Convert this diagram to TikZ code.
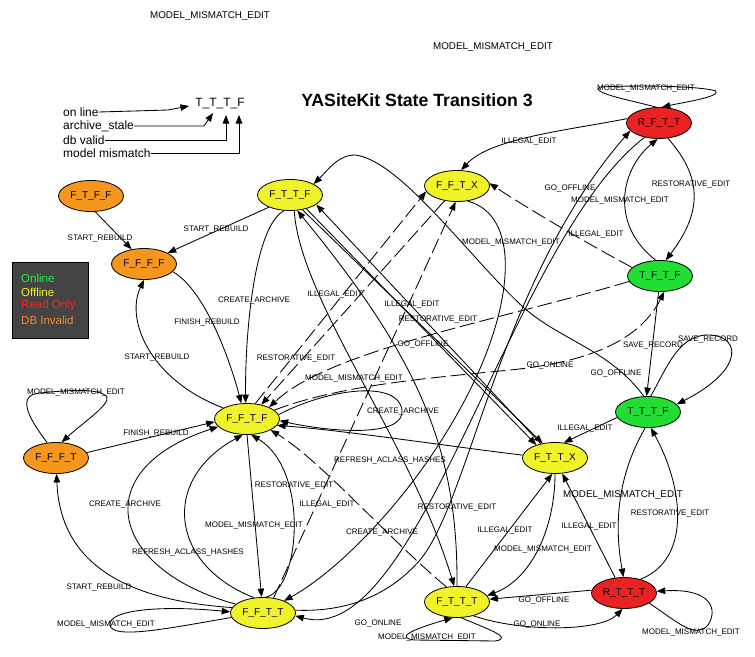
\documentclass[tikz,border=0pt]{standalone}
\usepackage{fontspec}
\setmainfont{Liberation Sans}
\usetikzlibrary{shapes.geometric,arrows.meta}
\definecolor{cOrange}{HTML}{F5961E}
\definecolor{cYellow}{HTML}{F0F22A}
\definecolor{cRed}{HTML}{EC2222}
\definecolor{cGreen}{HTML}{22DD33}
\definecolor{cLegend}{HTML}{444444}
\definecolor{lgGreen}{HTML}{22EE44}
\definecolor{lgYellow}{HTML}{EEEE33}
\definecolor{lgRed}{HTML}{EE2828}
\definecolor{lgOrange}{HTML}{F08A30}
\begin{document}
\begin{tikzpicture}[x=1pt,y=-1pt,
  state/.style={ellipse, draw, line width=0.8pt, minimum width=65pt, minimum height=31pt, inner sep=0pt, font=\fontsize{10}{12}\selectfont},
  edge/.style={line width=0.85pt, -{Triangle[length=8.5pt,width=6.5pt]}},
  dsh/.style={dash pattern=on 15pt off 5pt},
  elab/.style={inner sep=0pt, font=\fontsize{8}{9.6}\selectfont},
  blab/.style={inner sep=0pt, font=\fontsize{9.8}{11}\selectfont},
  keytxt/.style={anchor=west, inner sep=0pt, font=\fontsize{12}{14}\selectfont},
  lgtxt/.style={anchor=west, inner sep=0pt, font=\fontsize{11.5}{13}\selectfont}]
\useasboundingbox (0,0) rectangle (755,656);

% title and key
\node[inner sep=0pt, font=\fontsize{17.7}{20}\selectfont\bfseries] (title) at (417,100) {YASiteKit State Transition 3};
\node[inner sep=0pt, font=\fontsize{12}{14}\selectfont] (code) at (220,104) {T\_T\_T\_F};
\node[keytxt] (k1) at (63,112) {on line};
\node[keytxt] (k2) at (63,126) {archive\_stale};
\node[keytxt] (k3) at (63,140) {db valid};
\node[keytxt] (k4) at (63,153) {model mismatch};
\coordinate (t1) at (189,106);
\coordinate (t2) at (213,113);
\coordinate (t3) at (226,115);
\coordinate (t4) at (239,115);
\draw[edge] (k1.east) -- (168,110) -- (t1);
\draw[edge] (k2.east) -- (204,126) -- (t2);
\draw[edge] (k3.east) -- (226,140) -- (t3);
\draw[edge] (k4.east) -- (239,153) -- (t4);

% legend
\node[draw=black, line width=0.8pt, fill=cLegend, minimum width=76pt, minimum height=76pt, inner sep=0pt] (legend) at (50,300) {};
\node[lgtxt, text=lgGreen] (lg1) at (21,278) {Online};
\node[lgtxt, text=lgYellow] (lg2) at (21,292) {Offline};
\node[lgtxt, text=lgRed] (lg3) at (21,306) {Read Only};
\node[lgtxt, text=lgOrange] (lg4) at (21,320) {DB Invalid};

% states
\node[state, fill=cOrange] (FTFF) at (91,196) {F\_T\_F\_F};
\node[state, fill=cYellow] (FTTF) at (290,195) {F\_T\_T\_F};
\node[state, fill=cYellow] (FFTX) at (457,186) {F\_F\_T\_X};
\node[state, fill=cRed] (RFTT) at (659,123) {R\_F\_T\_T};
\node[state, fill=cOrange] (FFFF) at (144,264) {F\_F\_F\_F};
\node[state, fill=cGreen] (TFTF) at (660,276) {T\_F\_T\_F};
\node[state, fill=cYellow] (FFTF) at (247,419) {F\_F\_T\_F};
\node[state, fill=cGreen] (TTTF) at (648,412) {T\_T\_T\_F};
\node[state, fill=cOrange] (FFFT) at (56,458) {F\_F\_F\_T};
\node[state, fill=cYellow] (FTTX) at (555,458) {F\_T\_T\_X};
\node[state, fill=cYellow] (FFTT) at (263,613) {F\_F\_T\_T};
\node[state, fill=cYellow] (FTTT) at (457,602) {F\_T\_T\_T};
\node[state, fill=cRed] (RTTT) at (624,593) {R\_T\_T\_T};

% edges
\draw[edge] (RFTT.100) .. controls (630,100) and (590,93) .. (600,87) .. controls (640,85) and (700,86) .. (716,91) .. controls (720,97) and (685,102) .. (RFTT.80);
\draw[edge] (RFTT.172) .. controls (570,130) and (490,138) .. (FFTX.75);
\draw[edge] (RFTT.-60) .. controls (705,180) and (700,215) .. (TFTF.70);
\draw[edge] (TFTF.105) .. controls (610,225) and (620,170) .. (RFTT.-95);
\draw[edge,dsh] (TFTF.163) .. controls (590,245) and (530,210) .. (FFTX.5);
\draw[edge] (RFTT.-135) .. controls (510,240) and (420,650) .. (FFTT.-5);
\draw[edge] (FFTT.5) .. controls (340,612) and (385,600) .. (420,560) .. controls (470,500) and (500,280) .. (RFTT.-165);
\draw[edge] (FTFF.-75) -- (FFFF.130);
\draw[edge] (FTTF.-150) -- (FFFF.25);
\draw[edge] (FFFF.-15) .. controls (205,290) and (230,360) .. (FFTF.110);
\draw[edge] (FFTF.155) .. controls (150,380) and (125,320) .. (FFFF.-90);
\draw[edge] (FTTF.-110) .. controls (255,225) and (245,330) .. (FFTF.95);
\draw[edge,dsh] (FFTX.-130) -- (FFTF.45);
\draw[edge,dsh] (FFTF.62) -- (FFTX.190);
\draw[edge,dsh] (FFTT.55) -- (FFTX.-95);
\draw[edge] (FFTX.-55) .. controls (520,215) and (515,300) .. (470,390) .. controls (420,490) and (340,570) .. (FFTT.30);
\draw[edge] (FTTX.135) -- (FTTF.-20);
\draw[edge] (FTTF.-40) -- (FTTX.145);
\draw[edge] (FTTF.-50) -- (FTTX.130);
\draw[edge] (TTTF.190) -- (FTTX.60);
\draw[edge] (TFTF.-95) -- (TTTF.95);
\draw[edge] (TTTF.80) .. controls (668,365) and (678,338) .. (705,335) .. controls (740,333) and (748,368) .. (TTTF.15);
\draw[edge] (TTTF.105) .. controls (610,350) and (560,340) .. (523,307) .. controls (470,258) and (400,160) .. (355,155) .. controls (338,155) and (328,170) .. (FTTF.25);
\draw[edge,dsh] (FFTF.18) .. controls (340,385) and (430,378) .. (510,370) .. controls (590,362) and (640,340) .. (TFTF.-75);
\draw[edge,dsh] (TFTF.190) .. controls (500,320) and (330,350) .. (FFTF.28);
\draw[edge] (FFTF.8) .. controls (330,388) and (398,380) .. (402,410) .. controls (405,438) and (330,432) .. (FFTF.-3);
\draw[edge] (FTTX.175) .. controls (440,445) and (340,430) .. (FFTF.-12);
\draw[edge,dsh] (FTTT.125) .. controls (390,540) and (320,460) .. (FFTF.-25);
\draw[edge] (FTTF.-75) .. controls (300,300) and (410,440) .. (FTTT.100);
\draw[edge] (FTTT.90) .. controls (458,450) and (420,360) .. (FTTF.-65);
\draw[edge] (FFFT.10) -- (FFTF.185);
\draw[edge] (FFFT.120) .. controls (30,420) and (15,395) .. (40,393) .. controls (70,390) and (100,388) .. (107,397) .. controls (110,405) and (80,425) .. (FFFT.70);
\draw[edge] (FFTT.170) .. controls (120,600) and (60,560) .. (FFFT.-88);
\draw[edge] (FFTT.-172) .. controls (170,628) and (112,640) .. (110,625) .. controls (108,610) and (160,605) .. (FFTT.178);
\draw[edge] (FFTT.162) .. controls (110,570) and (85,470) .. (FFTF.195);
\draw[edge] (FFTT.120) .. controls (170,565) and (160,480) .. (FFTF.-105);
\draw[edge] (FFTF.-90) -- (FFTT.95);
\draw[edge] (FFTT.80) .. controls (300,590) and (310,470) .. (FFTF.-75);
\draw[edge] (FTTT.60) -- (FTTX.-100);
\draw[edge] (FTTX.-90) .. controls (555,530) and (530,580) .. (FTTT.12);
\draw[edge] (RTTT.175) -- (FTTT.5);
\draw[edge] (FTTT.-40) .. controls (520,632) and (600,632) .. (RTTT.-95);
\draw[edge] (FTTT.-75) .. controls (485,628) and (515,638) .. (495,641) -- (415,640) .. controls (395,638) and (410,630) .. (FTTT.-105);
\draw[edge] (RTTT.40) .. controls (690,560) and (685,490) .. (TTTF.-80);
\draw[edge] (TTTF.-100) .. controls (615,480) and (615,530) .. (RTTT.92);
\draw[edge] (RTTT.120) -- (FTTX.-65);
\draw[edge] (RTTT.-22) .. controls (675,620) and (695,640) .. (708,625) .. controls (718,610) and (712,588) .. (RTTT.3);

% labels
\node[blab] (b1) at (210,16) {MODEL\_MISMATCH\_EDIT};
\node[blab] (b2) at (493,47) {MODEL\_MISMATCH\_EDIT};
\node[blab] (b3) at (623,495) {MODEL\_MISMATCH\_EDIT};
\node[elab] (e1) at (646,88) {MODEL\_MISMATCH\_EDIT};
\node[elab] (e2) at (529,141) {ILLEGAL\_EDIT};
\node[elab] (e3) at (691,184) {RESTORATIVE\_EDIT};
\node[elab] (e4) at (570,188) {GO\_OFFLINE};
\node[elab] (e5) at (620,200) {MODEL\_MISMATCH\_EDIT};
\node[elab] (e6) at (596,234) {ILLEGAL\_EDIT};
\node[elab] (e7) at (511,242) {MODEL\_MISMATCH\_EDIT};
\node[elab] (e8) at (100,238) {START\_REBUILD};
\node[elab] (e9) at (216,229) {START\_REBUILD};
\node[elab] (e10) at (254,300) {CREATE\_ARCHIVE};
\node[elab] (e11) at (207,322) {FINISH\_REBUILD};
\node[elab] (e12) at (335,294) {ILLEGAL\_EDIT};
\node[elab] (e13) at (412,304) {ILLEGAL\_EDIT};
\node[elab] (e14) at (438,319) {RESTORATIVE\_EDIT};
\node[elab] (e15) at (423,344) {GO\_OFFLINE};
\node[elab] (e16) at (157,357) {START\_REBUILD};
\node[elab] (e17) at (296,358) {RESTORATIVE\_EDIT};
\node[elab] (e18) at (653,345) {SAVE\_RECORD};
\node[elab] (e19) at (708,339) {SAVE\_RECORD};
\node[elab] (e20) at (550,365) {GO\_ONLINE};
\node[elab] (e21) at (616,373) {GO\_OFFLINE};
\node[elab] (e22) at (354,378) {MODEL\_MISMATCH\_EDIT};
\node[elab] (e23) at (403,411) {CREATE\_ARCHIVE};
\node[elab] (e24) at (585,428) {ILLEGAL\_EDIT};
\node[elab] (e25) at (76,392) {MODEL\_MISMATCH\_EDIT};
\node[elab] (e26) at (156,433) {FINISH\_REBUILD};
\node[elab] (e27) at (390,460) {REFRESH\_ACLASS\_HASHES};
\node[elab] (e28) at (294,485) {RESTORATIVE\_EDIT};
\node[elab] (e29) at (327,504) {ILLEGAL\_EDIT};
\node[elab] (e30) at (125,504) {CREATE\_ARCHIVE};
\node[elab] (e31) at (254,525) {MODEL\_MISMATCH\_EDIT};
\node[elab] (e32) at (382,532) {CREATE\_ARCHIVE};
\node[elab] (e33) at (188,552) {REFRESH\_ACLASS\_HASHES};
\node[elab] (e34) at (457,507) {RESTORATIVE\_EDIT};
\node[elab] (e35) at (505,530) {ILLEGAL\_EDIT};
\node[elab] (e36) at (589,526) {ILLEGAL\_EDIT};
\node[elab] (e37) at (670,513) {RESTORATIVE\_EDIT};
\node[elab] (e38) at (543,549) {MODEL\_MISMATCH\_EDIT};
\node[elab] (e39) at (99,587) {START\_REBUILD};
\node[elab] (e40) at (106,624) {MODEL\_MISMATCH\_EDIT};
\node[elab] (e41) at (378,623) {GO\_ONLINE};
\node[elab] (e42) at (544,600) {GO\_OFFLINE};
\node[elab] (e43) at (537,624) {GO\_ONLINE};
\node[elab] (e44) at (427,637) {MODEL\_MISMATCH\_EDIT};
\node[elab] (e45) at (691,632) {MODEL\_MISMATCH\_EDIT};
\end{tikzpicture}
\end{document}
